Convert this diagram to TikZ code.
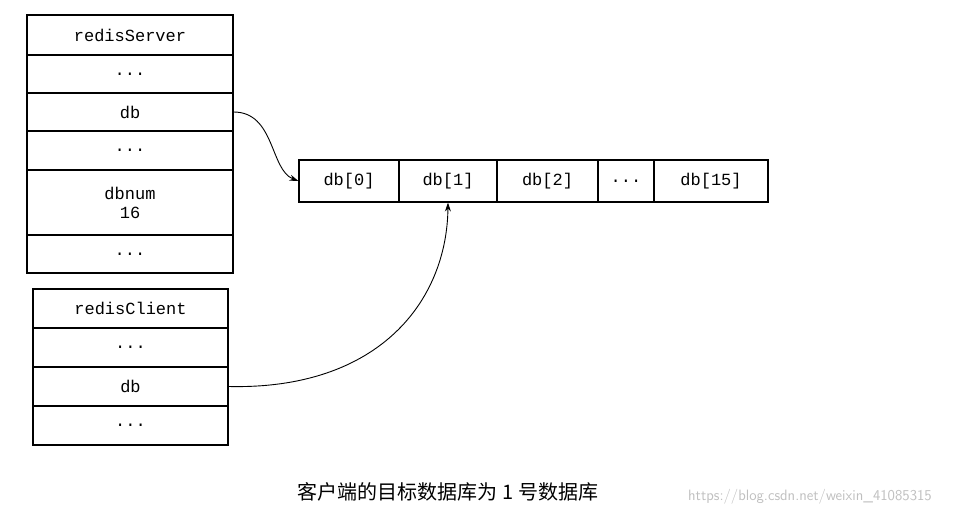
\documentclass[tikz,border=0pt]{standalone}
\usepackage{fontspec}
\setmonofont{Liberation Mono}
\newfontfamily\cjk{Noto Sans CJK SC}
\usetikzlibrary{arrows.meta}
\newcommand\mydots{...}
\begin{document}
\begin{tikzpicture}[x=1pt,y=-1pt,
  cell/.style={draw,line width=1.1pt,minimum height=0pt,inner sep=0pt,font=\ttfamily\fontsize{17}{19}\selectfont},
  conn/.style={line width=0.9pt,-{Stealth[length=9pt,width=6pt]}}]
\useasboundingbox (0,0) rectangle (960,519);
% server
\foreach \n/\a/\b/\t in {s1/15/55/redisServer,s2/55/93/\mydots,s3/93/131/db,s4/131/170/\mydots,s6/235/273/\mydots}
  \node[cell,minimum width=206pt,minimum height={\b-\a}] (\n) at (130,{(\a+\b)/2}) {\t};
\node[cell,minimum width=206pt,minimum height=65pt,align=center] (s5) at (130,202.5) {dbnum\\16};
% client
\foreach \n/\a/\b/\t in {c1/289/328/redisClient,c2/328/367/\mydots,c3/367/406/db,c4/406/445/\mydots}
  \node[cell,minimum width=195pt,minimum height={\b-\a}] (\n) at (130.5,{(\a+\b)/2}) {\t};
% array
\foreach \n/\a/\b/\t in {d0/299/399/db[0],d1/399/497/db[1],d2/497/598/db[2],d3/598/654/\mydots,d4/654/768/db[15]}
  \node[cell,minimum height=42pt,minimum width={\b-\a}] (\n) at ({(\a+\b)/2},181) {\t};
\draw[conn] (s3.east) .. controls (275,112) and (270,170) .. (d0.west);
\draw[conn] (c3.east) .. controls (380,390) and (447,300) .. (d1.south);
\node[font=\cjk\fontsize{20}{22}\selectfont] (cap) at (448,492) {客户端的目标数据库为 1 号数据库};
\node[font=\sffamily\fontsize{15}{17}\selectfont,text=black!25] (wm) at (810,497) {https://blog.csdn.net/weixin\_41085315};
\end{tikzpicture}
\end{document}
